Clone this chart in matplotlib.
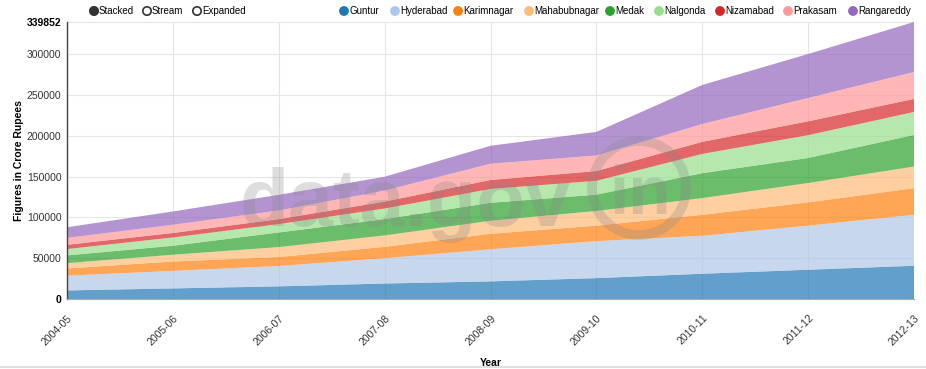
import numpy as np
import matplotlib.pyplot as plt
from matplotlib.patches import Circle

plt.rcParams['font.family'] = ['Liberation Sans', 'DejaVu Sans']

# data (Rs crore)
years = ['2004-05', '2005-06', '2006-07', '2007-08', '2008-09',
         '2009-10', '2010-11', '2011-12', '2012-13']
districts = ['Guntur', 'Hyderabad', 'Karimnagar', 'Mahabubnagar', 'Medak',
             'Nalgonda', 'Nizamabad', 'Prakasam', 'Rangareddy']

guntur = [10500, 13000, 15500, 19000, 21600, 25600, 31000, 35900, 40800]
hyderabad = [18100, 21500, 25000, 31000, 39400, 45400, 46600, 54100, 62500]
karimnagar = [8900, 11500, 11000, 14000, 19000, 19000, 25700, 28500, 32700]
mahabubnagar = [6500, 8300, 12200, 14000, 16000, 18000, 20500, 23800, 26500]
medak = [9500, 11000, 17900, 20000, 22000, 20000, 30600, 30700, 38800]
nalgonda = [7800, 10200, 10300, 13000, 17000, 17000, 23600, 28000, 28200]
nizamabad = [5200, 5500, 6100, 8500, 11000, 12000, 14800, 17000, 16000]
prakasam = [8500, 10100, 10600, 13500, 20000, 19000, 21900, 28600, 33000]
rangareddy = [13000, 16300, 19200, 17000, 22000, 29000, 47900, 54000, 61352]

series = [guntur, hyderabad, karimnagar, mahabubnagar, medak,
          nalgonda, nizamabad, prakasam, rangareddy]
colors = ['#1f77b4', '#aec7e8', '#ff7f0e', '#ffbb78', '#2ca02c',
          '#98df8a', '#d62728', '#ff9896', '#9467bd']

W, H = 926, 369
fig = plt.figure(figsize=(W / 100, H / 100), dpi=100)
ax = fig.add_axes([67 / W, 1 - 299 / H, 847 / W, 277 / H])

x = np.arange(len(years))
ax.stackplot(x, *series, colors=colors, alpha=0.7, linewidth=0)

ymax = int(np.sum(series, axis=0).max())
ax.set_xlim(0, len(years) - 1)
ax.set_ylim(0, ymax)

yt = list(range(0, 300001, 50000)) + [ymax]
ax.set_yticks(yt)
ax.set_yticklabels([str(v) for v in yt], fontsize=7.5, color='#333')
for lab in (ax.get_yticklabels()[0], ax.get_yticklabels()[-1]):
    lab.set_fontweight('bold')
    lab.set_color('#000')
ax.set_xticks(x)
ax.set_xticklabels(years, rotation=45, ha='right', rotation_mode='anchor',
                   fontsize=7.5, color='#333')
ax.tick_params(axis='both', length=0)
ax.tick_params(axis='y', pad=4)
ax.tick_params(axis='x', pad=10)

ax.grid(True, color='#e5e5e5', linewidth=0.8)
ax.set_axisbelow(True)
for s in ('top', 'right'):
    ax.spines[s].set_visible(False)
ax.spines['left'].set_color('#444')
ax.spines['left'].set_linewidth(1)
ax.spines['bottom'].set_color('#aaa')

ax.set_ylabel('Figures in Crore Rupees', fontsize=7.5, fontweight='bold', labelpad=2)
ax.set_xlabel('Year', fontsize=7.5, fontweight='bold', labelpad=8)

# overlay in pixel coordinates for legends and watermark
ov = fig.add_axes([0, 0, 1, 1], zorder=5)
ov.set_xlim(0, W)
ov.set_ylim(H, 0)
ov.axis('off')
ov.patch.set_alpha(0)

# watermark
ov.text(240, 226, 'data.gov', fontsize=58, fontweight='bold', color='#888',
        alpha=0.28, va='baseline', ha='left')
ov.add_patch(Circle((639, 188), 47, fill=False, lw=7, ec='#888', alpha=0.28))
ov.text(640, 214, 'in', fontsize=50, fontweight='bold', color='#888',
        alpha=0.28, ha='center', va='baseline')

# style legend
for cx, lab, filled in [(94, 'Stacked', True), (147, 'Stream', False),
                        (197, 'Expanded', False)]:
    ov.add_patch(Circle((cx, 11), 4.2, fc='#333' if filled else 'white',
                        ec='#333', lw=1.2))
    ov.text(cx + 5, 11.5, lab, fontsize=7, va='center', ha='left', color='#000')

# series legend
leg_x = [344, 395, 458, 529, 610, 659, 720, 788, 853]
for cx, lab, c in zip(leg_x, districts, colors):
    ov.add_patch(Circle((cx, 11), 4.2, fc=c, ec=c, lw=1))
    ov.text(cx + 5, 11.5, lab, fontsize=7, va='center', ha='left', color='#000')

ov.plot([0, W], [367, 367], color='#e0e0e0', lw=1.5)

fig.savefig('out.png', dpi=100)
